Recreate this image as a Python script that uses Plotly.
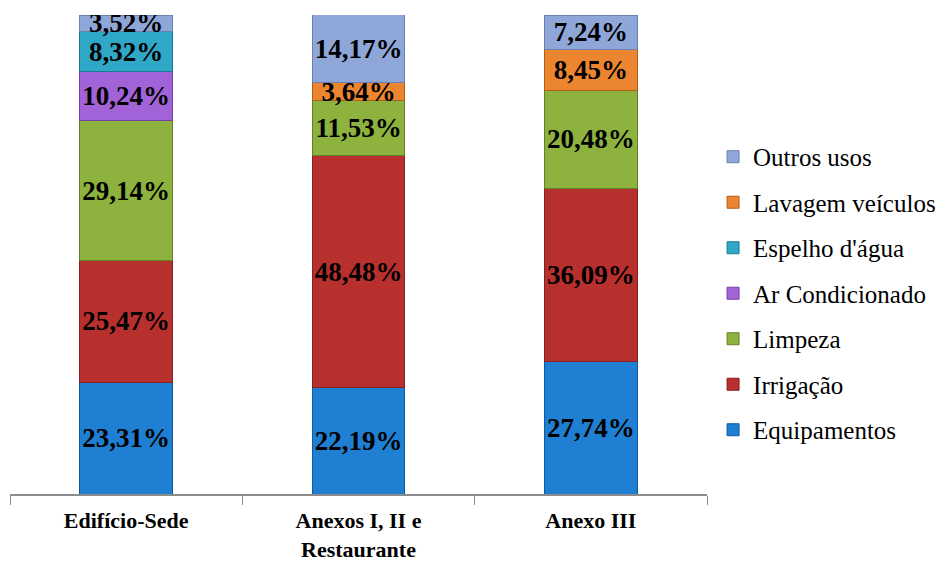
import plotly.graph_objects as go

categories = ["Edifício-Sede", "Anexos I, II e<br>Restaurante", "Anexo III"]
series_names = ["Equipamentos", "Irrigação", "Limpeza", "Ar Condicionado",
                "Espelho d'água", "Lavagem veículos", "Outros usos"]
equipamentos = [23.31, 22.19, 27.74]
irrigacao = [25.47, 48.48, 36.09]
limpeza = [29.14, 11.53, 20.48]
ar_condicionado = [10.24, None, None]
espelho_agua = [8.32, None, None]
lavagem_veiculos = [None, 3.64, 8.45]
outros_usos = [3.52, 14.17, 7.24]

series_values = [equipamentos, irrigacao, limpeza, ar_condicionado,
                 espelho_agua, lavagem_veiculos, outros_usos]
colors = ["#1F7FD2", "#B8302E", "#8DB23E", "#A262D8", "#2FA7C6", "#EC8530", "#8EA7D8"]
edges = ["#0E5A9E", "#85201E", "#62802A", "#7340A4", "#1E7A94", "#B05E1C", "#6A80AE"]

SERIF = "Liberation Serif"

fig = go.Figure()
for i, (name, vals, c, e) in enumerate(zip(series_names, series_values, colors, edges)):
    texts = ["" if v is None else f"{v:.2f}".replace(".", ",") + "%" for v in vals]
    fig.add_trace(go.Bar(
        x=categories, y=vals, name=name, text=texts,
        textposition="inside", insidetextanchor="middle", constraintext="none",
        textangle=0,
        textfont=dict(family=SERIF, size=27, color="black", weight="bold"),
        marker=dict(color=c, line=dict(color=e, width=1)),
        width=0.4, legendgroup=name, legendrank=100 - i,
    ))

fig.update_layout(
    template="none",
    barmode="stack",
    width=949, height=565,
    margin=dict(l=2, r=250, t=7, b=79),
    plot_bgcolor="white", paper_bgcolor="white",
    uniformtext=dict(minsize=27, mode="show"),
    font=dict(family=SERIF, color="black", size=21),
    legend=dict(
        x=1.0087, xanchor="left", y=0.4186, yanchor="middle",
        traceorder="grouped", tracegroupgap=10,
        font=dict(family=SERIF, size=25, color="black"),
        itemwidth=30, bgcolor="rgba(0,0,0,0)",
    ),
    xaxis=dict(
        showline=True, linecolor="#8c8c8c", linewidth=1.5,
        ticks="outside", tickson="boundaries", ticklen=9, tickcolor="#8c8c8c",
        tickfont=dict(family=SERIF, size=22, color="black", weight="bold"),
        ticklabelstandoff=6,
        showgrid=False,
    ),
    yaxis=dict(range=[0, 100], visible=False, showgrid=False),
)

fig.write_html("out.html")
